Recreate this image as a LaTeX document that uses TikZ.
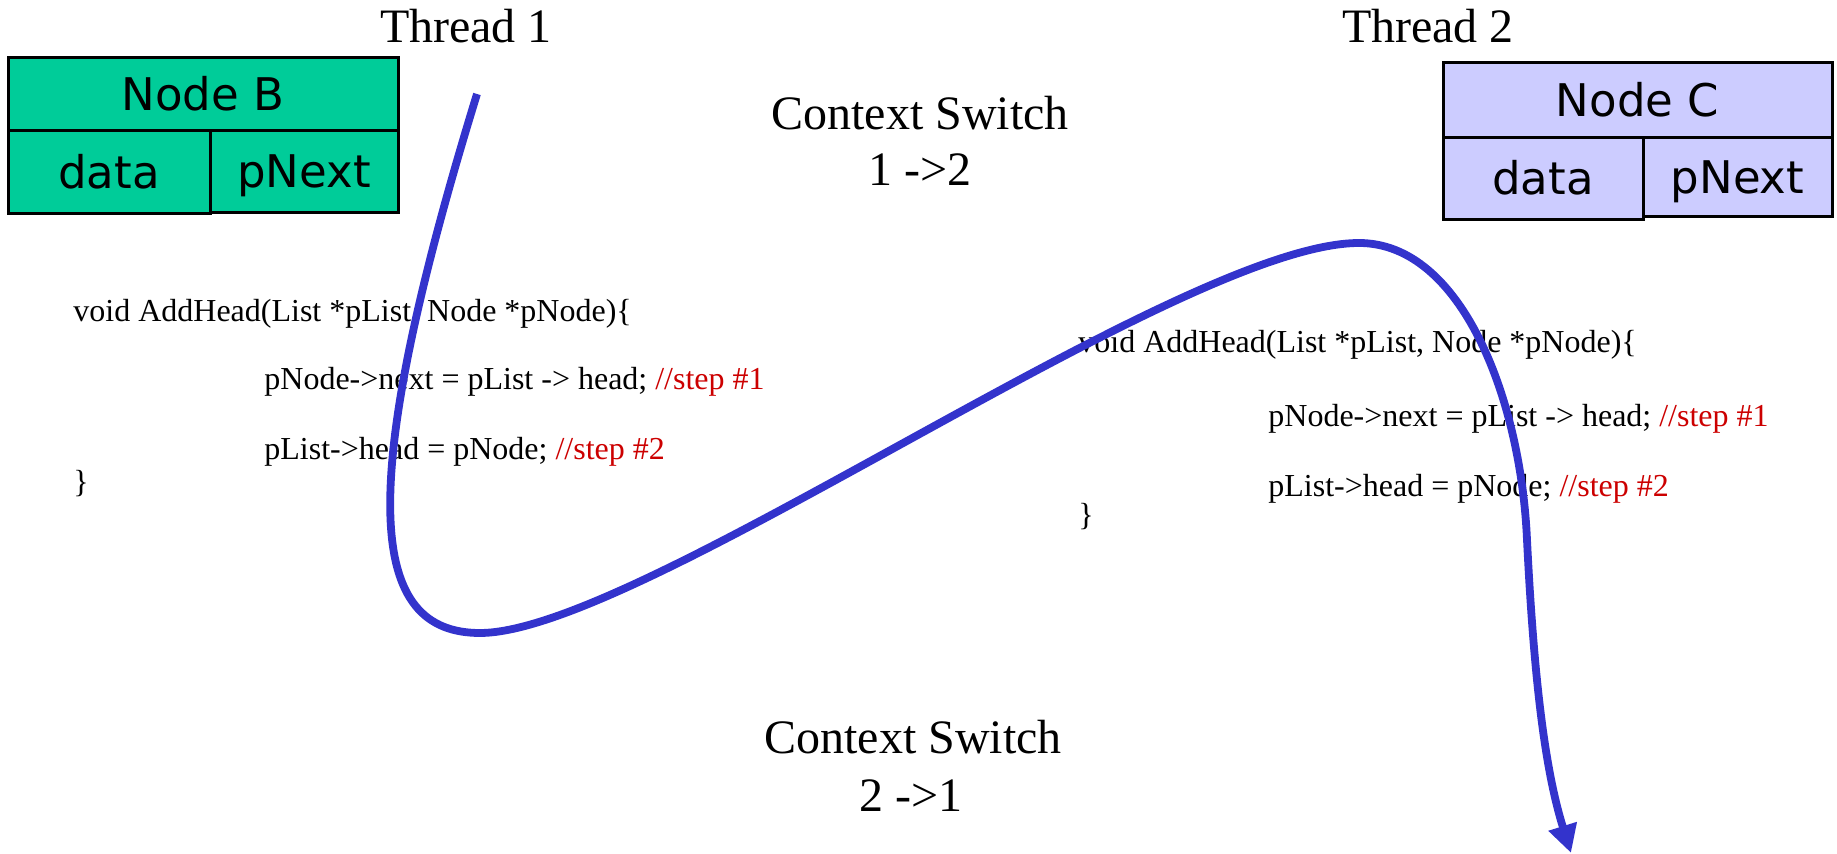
\documentclass[tikz,border=0pt]{standalone}
\usepackage{fontspec}
\setmainfont{Liberation Serif}
\newfontfamily\cellfont{DejaVu Sans}
\usetikzlibrary{arrows.meta}
\definecolor{nodegreen}{HTML}{00CC99}
\definecolor{nodeviolet}{HTML}{CCCCFF}
\definecolor{flowblue}{HTML}{3333CC}
\definecolor{commentred}{HTML}{CC0000}
\begin{document}
\begin{tikzpicture}[x=0.5pt, y=-0.5pt,
  cell/.style={draw=black, line width=1.5pt, inner sep=0pt, outer sep=0pt,
    font=\cellfont\fontsize{22.5}{26}\selectfont, text height=16pt, text depth=0pt},
  big/.style={font=\fontsize{24}{28}\selectfont, inner sep=0pt, anchor=base},
  code/.style={font=\fontsize{16}{19}\selectfont, inner sep=0pt, anchor=base west},
  flow/.style={draw=flowblue, line width=3.9pt, -{Triangle[length=14pt,width=14pt]}}]
\useasboundingbox (0,0) rectangle (1837,854);

% thread titles
\node[big] (t1) at (466,43) {Thread 1};
\node[big] (t2) at (1428,43) {Thread 2};

% context switch labels
\node[big] (cs12a) at (920,130) {Context Switch};
\node[big] (cs12b) at (920,186) {1 ->2};
\node[big] (cs21a) at (913,754) {Context Switch};
\node[big] (cs21b) at (911,812) {2 ->1};

% list node B
\node[cell, fill=nodegreen, minimum width=195pt, minimum height=36.5pt] (bT) at (203,94.5) {Node B};
\node[cell, fill=nodegreen, minimum width=101pt, minimum height=41.5pt] (bD) at (109,172.5) {data};
\node[cell, fill=nodegreen, minimum width=94pt, minimum height=41pt] (bN) at (304,172) {pNext};

% list node C
\node[cell, fill=nodeviolet, minimum width=194.5pt, minimum height=37.5pt] (cT) at (1637.5,100.5) {Node C};
\node[cell, fill=nodeviolet, minimum width=100pt, minimum height=41pt] (cD) at (1543,179) {data};
\node[cell, fill=nodeviolet, minimum width=94.5pt, minimum height=39.5pt] (cN) at (1737.5,177.5) {pNext};

% code of thread 1
\node[code] (l1) at (73,322) {void AddHead(List *pList, Node *pNode)\{};
\node[code] (l2) at (264,390) {pNode->next = pList -> head; \textcolor{commentred}{//step \#1}};
\node[code] (l3) at (264,460) {pList->head = pNode; \textcolor{commentred}{//step \#2}};
\node[code] (l4) at (73,493) {\}};

% code of thread 2
\node[code] (r1) at (1078,353) {void AddHead(List *pList, Node *pNode)\{};
\node[code] (r2) at (1268,427) {pNode->next = pList -> head; \textcolor{commentred}{//step \#1}};
\node[code] (r3) at (1268,497) {pList->head = pNode; \textcolor{commentred}{//step \#2}};
\node[code] (r4) at (1078,526) {\}};

% execution flow across the two threads
\coordinate (s) at (477,94);
\coordinate (lb) at (480,633);
\coordinate (pk) at (1359,243);
\coordinate (md) at (1527,540);
\coordinate (e) at (1571,853);
\draw[flow] (s) .. controls (352,500) and (370,633) .. (lb)
  .. controls (640,633) and (1180,243) .. (pk)
  .. controls (1462,243) and (1521,400) .. (md)
  .. controls (1534,680) and (1545,770) .. (e);
\end{tikzpicture}
\end{document}
